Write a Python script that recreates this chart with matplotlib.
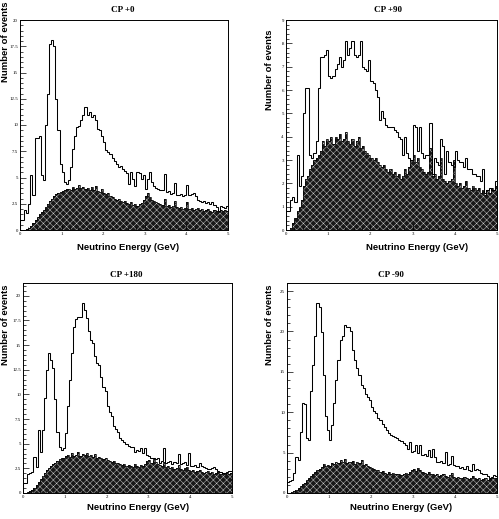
import numpy as np
import matplotlib
matplotlib.use("Agg")
import matplotlib.pyplot as plt
from matplotlib.ticker import MultipleLocator, FuncFormatter

# Energy binning: 100 bins of 0.05 GeV between 0 and 5 GeV
e_min, e_max, n_bins = 0.0, 5.0, 100

titles = ["CP +0", "CP +90", "CP +180", "CP -90"]

# Total event spectra (outline histograms)
total_cp0 = [
    1.0, 1.0, 1.9, 1.6, 2.5, 5.2, 3.3, 8.8, 8.8, 9.0,
    5.2, 4.8, 10.0, 13.0, 17.7, 18.1, 17.5, 12.5, 9.5, 6.3,
    5.5, 4.6, 4.4, 4.8, 6.0, 7.7, 9.0, 9.8, 9.9, 10.5,
    11.0, 11.7, 11.0, 11.2, 10.8, 11.0, 10.5, 9.6, 9.5, 9.0,
    8.4, 7.6, 7.4, 7.2, 6.9, 6.6, 6.3, 6.0, 6.1, 5.8,
    5.6, 5.4, 4.4, 5.5, 4.9, 4.2, 5.5, 5.4, 4.9, 5.2,
    3.9, 4.9, 5.5, 4.6, 4.2, 4.0, 3.9, 3.8, 3.8, 5.3,
    3.6, 3.7, 3.4, 3.5, 4.5, 3.3, 3.3, 3.4, 3.2, 3.3,
    4.3, 3.3, 3.4, 3.5, 3.2, 2.9, 2.8, 2.7, 2.8, 2.6,
    2.7, 2.5, 2.7, 2.4, 2.2, 1.8, 2.3, 2.2, 2.1, 2.3,
]
total_cp90 = [
    0.8, 0.8, 1.3, 1.4, 1.2, 3.2, 1.9, 2.3, 5.0, 6.1,
    6.1, 3.2, 3.1, 3.3, 3.8, 6.1, 7.4, 7.4, 7.5, 7.7,
    6.6, 6.5, 6.6, 6.9, 7.1, 7.4, 7.0, 7.3, 8.1, 7.5,
    7.8, 8.1, 7.5, 7.4, 7.5, 8.1, 7.0, 6.9, 6.8, 7.3,
    6.4, 6.3, 6.0, 5.7, 4.7, 5.1, 4.8, 4.5, 4.4, 4.4,
    4.4, 4.3, 4.2, 4.0, 3.9, 3.2, 4.0, 3.3, 3.1, 3.0,
    4.5, 4.4, 3.4, 4.4, 3.3, 3.1, 3.2, 3.2, 4.6, 2.4,
    3.1, 2.9, 2.8, 3.9, 3.6, 2.4, 3.4, 2.9, 2.8, 2.7,
    3.4, 3.0, 2.9, 2.9, 2.7, 3.1, 2.6, 2.6, 2.4, 2.4,
    2.3, 2.3, 2.1, 2.6, 1.6, 1.7, 1.8, 1.7, 1.7, 2.1,
]
total_cp180 = [
    1.0, 1.0, 1.9, 2.0, 2.1, 3.7, 2.6, 6.4, 4.2, 6.4,
    9.6, 12.5, 14.2, 13.5, 12.7, 9.5, 6.2, 4.7, 4.4, 4.6,
    6.1, 8.8, 11.5, 14.2, 16.8, 17.6, 17.9, 17.9, 19.3, 18.6,
    17.7, 16.4, 15.5, 15.2, 13.9, 13.2, 13.0, 11.8, 10.8, 10.3,
    8.8, 8.2, 7.8, 6.8, 6.5, 6.2, 5.6, 5.4, 5.2, 5.0,
    4.8, 4.7, 4.7, 4.2, 4.4, 4.3, 4.6, 4.1, 4.6, 3.9,
    3.8, 3.6, 3.5, 3.4, 3.5, 3.0, 3.2, 4.6, 3.0, 3.1,
    3.2, 2.9, 3.1, 3.0, 4.0, 2.9, 3.0, 3.1, 2.8, 4.1,
    2.7, 2.7, 2.8, 2.6, 3.0, 2.7, 2.6, 2.5, 2.4, 2.4,
    2.5, 2.6, 2.4, 2.2, 2.1, 2.0, 2.0, 2.1, 2.2, 2.2,
]
total_cpm90 = [
    1.4, 1.5, 1.6, 2.5, 4.5, 4.1, 7.6, 11.1, 11.0, 6.8,
    6.6, 12.6, 15.8, 19.5, 23.5, 23.0, 19.9, 14.6, 9.5, 7.8,
    6.6, 8.4, 11.1, 14.0, 16.5, 18.9, 19.5, 20.8, 20.6, 20.6,
    20.0, 17.7, 16.5, 15.5, 14.6, 13.4, 13.0, 12.3, 11.9, 11.5,
    10.7, 10.2, 9.9, 9.3, 9.0, 8.6, 8.2, 7.8, 7.4, 7.2,
    7.0, 6.9, 6.8, 6.6, 6.4, 6.2, 6.0, 5.4, 6.3, 5.1,
    5.2, 5.9, 5.0, 6.0, 4.7, 4.8, 4.6, 5.3, 4.4, 5.5,
    4.5, 3.9, 3.8, 4.0, 3.7, 5.1, 3.5, 3.6, 4.6, 3.5,
    3.3, 3.4, 3.1, 3.2, 3.0, 3.3, 2.8, 2.7, 3.6, 2.9,
    3.0, 2.8, 2.5, 2.4, 2.3, 2.1, 1.9, 2.0, 2.2, 2.1,
]

# Background spectra (filled histograms)
bkg_cp0 = [
    0.0, 0.0, 0.0, 0.1, 0.2, 0.4, 0.7, 1.0, 1.2, 1.5,
    1.7, 1.9, 2.2, 2.5, 2.8, 3.0, 3.2, 3.4, 3.5, 3.6,
    3.7, 3.8, 3.9, 3.9, 3.8, 4.1, 3.9, 4.0, 4.3, 4.0,
    4.1, 3.9, 4.0, 3.8, 4.1, 3.8, 4.2, 3.7, 3.6, 3.9,
    3.5, 3.4, 3.5, 3.2, 3.1, 3.0, 2.9, 3.0, 2.8, 2.7,
    2.8, 2.6, 2.5, 2.7, 2.4, 2.5, 2.3, 2.5, 2.6, 2.9,
    3.2, 3.5, 3.1, 2.9, 2.8, 2.7, 2.6, 2.5, 2.4, 3.0,
    2.3, 2.4, 2.2, 2.3, 2.8, 2.2, 2.1, 2.2, 2.0, 2.1,
    2.7, 2.0, 2.1, 1.9, 2.0, 2.1, 1.9, 2.0, 1.8, 1.9,
    2.0, 1.8, 1.7, 1.9, 1.8, 1.7, 1.9, 1.8, 1.9, 1.8,
]
bkg_cp90 = [
    0.0, 0.0, 0.1, 0.3, 0.5, 0.8, 1.0, 1.3, 1.9, 2.2,
    2.3, 2.6, 2.8, 3.0, 3.1, 3.2, 3.4, 3.8, 3.6, 3.9,
    3.8, 4.0, 3.7, 4.0, 3.9, 4.1, 3.8, 3.9, 4.2, 3.8,
    3.7, 3.9, 3.6, 3.8, 4.0, 3.5, 3.6, 3.4, 3.3, 3.2,
    3.1, 3.0, 3.1, 2.9, 2.8, 2.7, 2.8, 2.6, 2.5, 2.6,
    2.4, 2.5, 2.3, 2.4, 2.2, 2.3, 2.6, 2.4, 2.7, 3.0,
    3.2, 2.9, 3.1, 2.7, 2.6, 2.5, 2.4, 2.5, 3.5, 2.3,
    2.4, 2.2, 2.3, 3.1, 2.2, 2.1, 2.0, 2.1, 2.2, 3.0,
    2.0, 1.9, 2.0, 1.8, 1.9, 2.1, 1.8, 1.7, 1.9, 1.8,
    1.7, 1.8, 1.6, 1.7, 1.5, 1.7, 1.6, 1.8, 1.7, 1.9,
]
bkg_cp180 = [
    0.0, 0.0, 0.1, 0.2, 0.3, 0.5, 0.8, 1.1, 1.4, 1.7,
    2.0, 2.3, 2.5, 2.7, 2.9, 3.0, 3.2, 3.4, 3.5, 3.6,
    3.8, 3.9, 3.7, 4.1, 3.8, 3.9, 4.2, 3.8, 4.0, 3.9,
    4.1, 3.8, 3.9, 3.7, 4.0, 3.6, 3.7, 3.5, 3.4, 3.5,
    3.3, 3.2, 3.1, 3.2, 3.0, 3.0, 2.9, 2.8, 2.9, 2.7,
    2.8, 2.7, 2.6, 2.9, 2.7, 2.6, 2.8, 2.7, 2.9, 3.2,
    3.3, 3.0, 3.4, 3.1, 2.9, 2.8, 2.7, 3.1, 2.6, 2.7,
    2.5, 2.6, 2.4, 2.5, 2.8, 2.4, 2.3, 2.5, 2.6, 2.3,
    2.2, 2.3, 2.1, 2.2, 2.3, 2.1, 2.0, 2.1, 2.2, 2.0,
    2.1, 1.9, 2.0, 2.1, 1.9, 2.0, 1.9, 2.0, 1.9, 2.0,
]
bkg_cpm90 = [
    0.0, 0.0, 0.1, 0.2, 0.4, 0.6, 0.9, 1.1, 1.3, 1.6,
    1.9, 2.1, 2.4, 2.6, 2.8, 3.0, 3.2, 3.6, 3.4, 3.5,
    3.3, 3.7, 3.6, 3.9, 3.7, 4.1, 3.8, 4.2, 3.7, 3.9,
    3.8, 4.0, 3.6, 3.9, 3.7, 4.1, 3.5, 3.6, 3.3, 3.2,
    3.1, 3.0, 2.9, 2.8, 2.6, 2.7, 2.5, 2.4, 2.6, 2.3,
    2.5, 2.4, 2.3, 2.4, 2.2, 2.3, 2.5, 2.4, 2.6, 2.8,
    3.0, 2.7, 3.1, 2.8, 2.6, 2.5, 2.4, 2.6, 2.3, 2.4,
    2.2, 2.3, 2.1, 2.2, 2.4, 2.1, 2.0, 2.2, 2.5, 2.0,
    1.9, 2.0, 1.8, 1.9, 2.0, 1.8, 1.7, 1.8, 2.1, 1.8,
    1.7, 1.8, 1.6, 1.7, 1.8, 1.6, 1.7, 1.9, 1.8, 1.8,
]

totals = [total_cp0, total_cp90, total_cp180, total_cpm90]
backgrounds = [bkg_cp0, bkg_cp90, bkg_cp180, bkg_cpm90]

# Axis ranges and tick spacing for each panel
y_max = [20.0, 9.0, 21.3, 26.0]
y_major = [2.5, 1.0, 2.5, 5.0]
y_minor = [0.5, 0.2, 0.5, 1.0]

# Panel geometry in pixels (left, top, right, bottom) on a 499x519 canvas
W, H = 499, 519
boxes = [(20, 20, 228, 230), (286, 20, 497, 230),
         (23, 283, 232, 493), (287, 283, 497, 493)]
title_pos = [(123, 10), (388, 10), (126, 275), (391, 275)]
xlabel_pos = [(128, 248), (417, 248), (138, 508), (401, 508)]
ylabel_pos = [(6, 42), (270, 70), (6, 325), (270, 325)]

plt.rcParams["hatch.linewidth"] = 0.35

fig = plt.figure(figsize=(W / 100, H / 100), dpi=100)
edges = np.linspace(e_min, e_max, n_bins + 1)


def fmt(v, _pos):
    if abs(v - round(v)) < 1e-9:
        return f"{int(round(v))}"
    return f"{v:g}"


for k in range(4):
    l, t, r, b = boxes[k]
    ax = fig.add_axes([l / W, 1 - b / H, (r - l) / W, (b - t) / H])
    ax.stairs(backgrounds[k], edges, fill=True, facecolor="#181818",
              edgecolor="#c8c8c8", hatch="xxxxx", linewidth=0)
    ax.stairs(backgrounds[k], edges, color="black", linewidth=0.5)
    ax.stairs(totals[k], edges, color="black", linewidth=0.75, baseline=0)
    ax.set_xlim(e_min, e_max)
    ax.set_ylim(0, y_max[k])
    ax.xaxis.set_major_locator(MultipleLocator(1))
    ax.xaxis.set_minor_locator(MultipleLocator(0.2))
    ax.yaxis.set_major_locator(MultipleLocator(y_major[k]))
    ax.yaxis.set_minor_locator(MultipleLocator(y_minor[k]))
    ax.xaxis.set_major_formatter(FuncFormatter(fmt))
    ax.yaxis.set_major_formatter(FuncFormatter(fmt))
    ax.tick_params(which="both", direction="in", top=False, right=False,
                   labelsize=3.5, pad=1.5, width=0.5)
    ax.tick_params(which="major", length=4)
    ax.tick_params(which="minor", length=2)
    for lab in ax.get_xticklabels() + ax.get_yticklabels():
        lab.set_family("Liberation Serif")
    for s in ax.spines.values():
        s.set_linewidth(0.7)

    tx, ty = title_pos[k]
    fig.text(tx / W, 1 - ty / H, titles[k], ha="center", va="center",
             family="Liberation Serif", weight="bold", fontsize=6.5)
    xx, xy = xlabel_pos[k]
    fig.text(xx / W, 1 - xy / H, "Neutrino Energy (GeV)", ha="center",
             va="center", family="Liberation Sans", weight="bold", fontsize=6.8)
    yx, yy = ylabel_pos[k]
    fig.text(yx / W, 1 - yy / H, "Number of events", ha="center",
             va="center", rotation=90, family="Liberation Sans",
             weight="bold", fontsize=6.8)

fig.savefig("out.png", dpi=100)
